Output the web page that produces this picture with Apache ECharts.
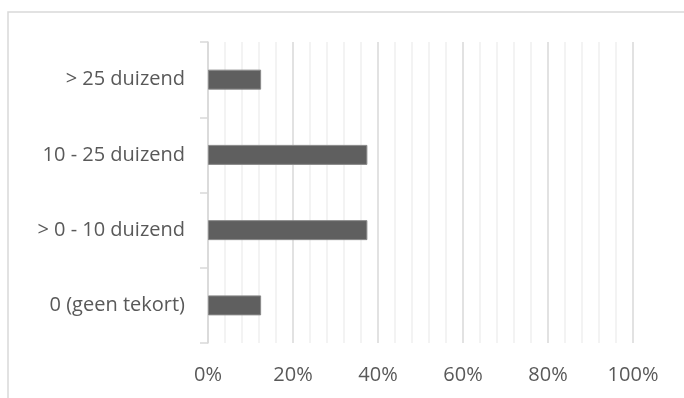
<!DOCTYPE html>
<html>
<head>
<meta charset="utf-8">
<script src="https://cdn.jsdelivr.net/npm/echarts@6/dist/echarts.min.js"></script>
<style>
  html, body { margin: 0; padding: 0; background: #fff; }
  #chart { width: 684px; height: 398px; }
</style>
</head>
<body>
<div id="chart"></div>
<script>
// categories from bottom to top
const categories = ['0 (geen tekort)', '> 0 - 10 duizend', '10 - 25 duizend', '> 25 duizend']
const shares = [12.5, 37.5, 37.5, 12.5]

const myechart = echarts.init(document.getElementById('chart'))

const labelFont = {
  color: '#595959',
  fontFamily: 'Open Sans',
  fontSize: 20
}

let option = {
  animation: false,
  graphic: [
    {
      type: 'rect',
      shape: { x: 8, y: 12, width: 700, height: 420 },
      style: { fill: 'none', stroke: '#d9d9d9', lineWidth: 1.5 },
      silent: true
    }
  ],
  grid: { left: 208, right: 51, top: 42, bottom: 55 },
  xAxis: {
    type: 'value',
    min: 0,
    max: 100,
    interval: 20,
    axisLine: { show: false },
    axisTick: { show: false },
    axisLabel: Object.assign({ margin: 22, formatter: '{value}%' }, labelFont),
    splitLine: { show: true, lineStyle: { color: '#d9d9d9', width: 1.5 } },
    minorTick: { show: false, splitNumber: 5 },
    minorSplitLine: { show: true, lineStyle: { color: '#efefef', width: 1.5 } }
  },
  yAxis: {
    type: 'category',
    data: categories,
    axisLine: { show: true, lineStyle: { color: '#d9d9d9', width: 1.5 } },
    axisTick: { show: true, length: 8, lineStyle: { color: '#d9d9d9', width: 1.5 } },
    axisLabel: Object.assign({ margin: 23 }, labelFont),
    splitLine: { show: false }
  },
  series: [
    {
      type: 'bar',
      data: shares,
      barWidth: 20,
      itemStyle: { color: '#5f5f5f', borderColor: '#8a8a8a', borderWidth: 1 }
    }
  ]
}

myechart.setOption(option)
</script>
</body>
</html>
